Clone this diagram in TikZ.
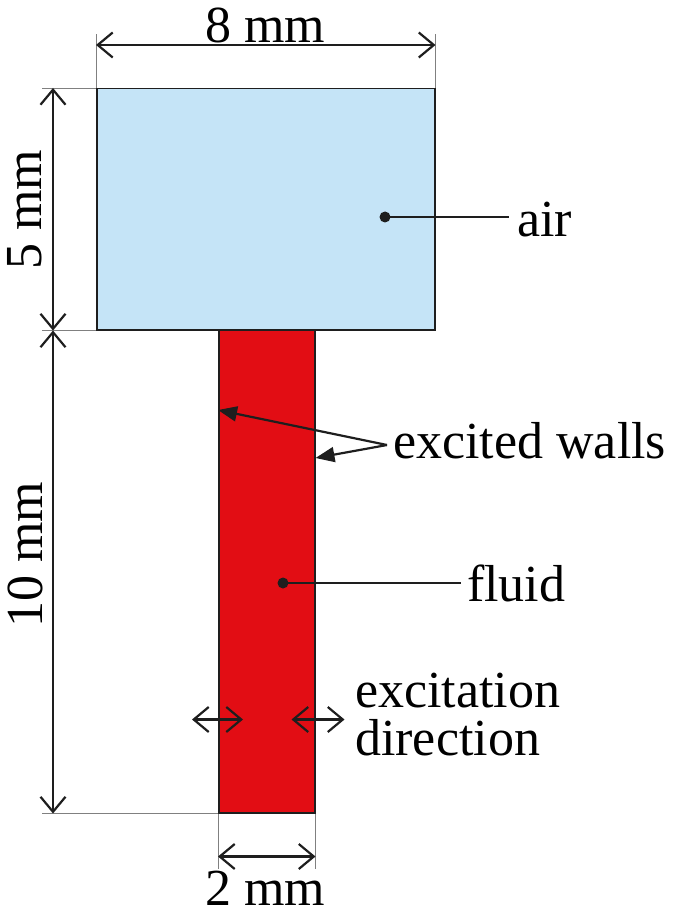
\documentclass[tikz,border=0pt]{standalone}
\usepackage{fontspec}
\setmainfont{Liberation Serif}
\usetikzlibrary{arrows.meta}
\definecolor{airblue}{HTML}{C5E4F7}
\definecolor{fluidred}{HTML}{E20D14}
\definecolor{inkgray}{HTML}{1E1E1E}
\begin{document}
\begin{tikzpicture}
[x=1pt, y=-1pt,
every node/.style={font=\fontsize{52}{48}\selectfont, inner sep=0pt},
box/.style={draw=inkgray, line width=1.5pt, inner sep=0pt, anchor=north west},
helpline/.style={draw=gray, line width=0.9pt},
dimline/.style={draw=inkgray, line width=2.2pt,
  {Straight Barb[length=15pt, width=25pt]}-{Straight Barb[length=15pt, width=25pt]}},
pointer/.style={draw=inkgray, line width=2.2pt, -{Triangle[length=19pt, width=15pt]}},
leader/.style={draw=inkgray, line width=2pt}]
\useasboundingbox (0,0) rectangle (685,917);

% the two domains
\node[box, fill=airblue, minimum width=338pt, minimum height=241pt] (air) at (96,88) {};
\node[box, fill=fluidred, minimum width=96pt, minimum height=483pt] (fluid) at (218,329) {};

% width of the air domain
\draw[helpline] (air.north west) -- ++(0,-54);
\draw[helpline] (air.north east) -- ++(0,-54);
\draw[dimline] ([yshift=43pt]air.north west) -- ([yshift=43pt]air.north east);
\node (air width) at (265,25) {8 mm};

% heights
\draw[helpline] (air.north west) -- ++(-54,0);
\draw[helpline] (air.south west) -- ++(-54,0);
\draw[helpline] (fluid.south west) -- ++(-176,0);
\draw[dimline] ([xshift=-43pt]air.north west) -- ([xshift=-43pt]air.south west);
\draw[dimline] ([xshift=-43pt]air.south west) -- ([xshift=-43pt]air.south west |- fluid.south);
\node[rotate=90] (air height) at (25,210) {5 mm};
\node[rotate=90] (fluid height) at (25,555) {10 mm};

% width of the fluid domain
\draw[helpline] (fluid.south west) -- ++(0,55);
\draw[helpline] (fluid.south east) -- ++(0,55);
\draw[dimline] ([yshift=-43pt]fluid.south west) -- ([yshift=-43pt]fluid.south east);
\node (fluid width) at (265,888) {2 mm};

% labels
\coordinate (air dot) at (385,217);
\node[anchor=west] (air label) at (517,220) {air};
\fill[inkgray] (air dot) circle (5.5);
\draw[leader] (air dot) -- ([xshift=-8pt]air dot -| air label.west);

\coordinate (fluid dot) at (283,583);
\node[anchor=west] (fluid label) at (467,583) {fluid};
\fill[inkgray] (fluid dot) circle (5.5);
\draw[leader] (fluid dot) -- ([xshift=-6pt]fluid dot -| fluid label.west);

\node[anchor=west] (walls label) at (393,441) {excited walls};
\coordinate (walls fork) at (387,445);
\draw[pointer] (walls fork) -- ([yshift=-81pt]fluid.north west);
\draw[pointer] (walls fork) -- ([yshift=-129pt]fluid.north east);

\draw[dimline] ([xshift=-26pt, yshift=94pt]fluid.south west) -- ++(51,0);
\draw[dimline] ([xshift=-24pt, yshift=94pt]fluid.south east) -- ++(53,0);
\node[anchor=west, align=left] (excitation label) at (355,715) {excitation\\direction};
\end{tikzpicture}
\end{document}
